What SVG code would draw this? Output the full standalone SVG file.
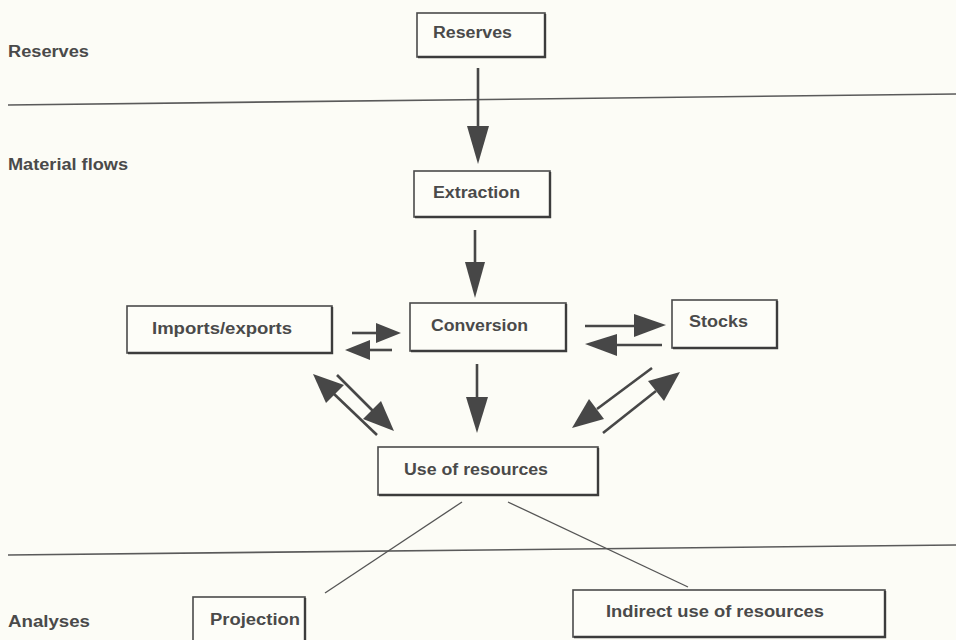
<svg xmlns="http://www.w3.org/2000/svg" width="956" height="640" viewBox="0 0 956 640">
  <defs>
    <style>
      .bg { fill: #fcfcf6; }
      .box { fill: #fdfdf8; stroke: #4a4a4a; stroke-width: 1.6; }
      .shadow { fill: none; stroke: #3c3c3c; stroke-width: 2.4; }
      .lbl { font-family: "Liberation Sans", Arial, sans-serif; font-weight: bold; font-size: 16px; fill: #4a4a4a; }
      .rule { stroke: #5a5a5a; stroke-width: 1.6; fill: none; }
      .shaft { stroke: #474747; stroke-width: 2.6; fill: none; }
      .thin { stroke: #555; stroke-width: 1.3; fill: none; }
      .head { fill: #474747; }
    </style>
  </defs>

  <rect class="bg" x="0" y="0" width="956" height="640"/>

  <!-- section labels and dividers -->
  <g id="sections">
    <text class="lbl" x="8" y="57" textLength="81" lengthAdjust="spacingAndGlyphs">Reserves</text>
    <text class="lbl" x="8" y="170" textLength="120" lengthAdjust="spacingAndGlyphs">Material flows</text>
    <text class="lbl" x="8" y="627" textLength="82" lengthAdjust="spacingAndGlyphs">Analyses</text>
    <path class="rule" d="M8,105 L956,94"/>
    <path class="rule" d="M8,555 L956,545"/>
  </g>

  <!-- connectors -->
  <g id="connectors">
    <!-- Reserves to Extraction -->
    <line class="shaft" x1="478" y1="68" x2="478" y2="128"/>
    <polygon class="head" points="467,126 489,126 478,164"/>
    <!-- Extraction to Conversion -->
    <line class="shaft" x1="475" y1="230" x2="475" y2="264"/>
    <polygon class="head" points="465,262 485,262 475,298"/>
    <!-- Conversion to Use of resources -->
    <line class="shaft" x1="477" y1="364" x2="477" y2="399"/>
    <polygon class="head" points="466,397 488,397 477,433"/>

    <!-- Imports/exports and Conversion -->
    <line class="shaft" x1="352" y1="333" x2="378" y2="333"/>
    <polygon class="head" points="376,323 376,343 401,333"/>
    <line class="shaft" x1="392" y1="350" x2="368" y2="350"/>
    <polygon class="head" points="370,340 370,360 345,350"/>

    <!-- Conversion and Stocks -->
    <line class="shaft" x1="585" y1="326" x2="636" y2="326"/>
    <polygon class="head" points="634,314 634,337 666,325"/>
    <line class="shaft" x1="662" y1="345" x2="614" y2="345"/>
    <polygon class="head" points="617,334 617,356 585,344"/>

    <!-- Imports/exports and Use of resources -->
    <line class="shaft" x1="377" y1="435" x2="333" y2="393"/>
    <polygon class="head" points="313,374 326,403 344,385"/>
    <line class="shaft" x1="337" y1="375" x2="373" y2="411"/>
    <polygon class="head" points="394,431 363,419 381,401"/>

    <!-- Stocks and Use of resources -->
    <line class="shaft" x1="652" y1="368" x2="597" y2="409"/>
    <polygon class="head" points="572,428 589,399 604,419"/>
    <line class="shaft" x1="603" y1="433" x2="656" y2="391"/>
    <polygon class="head" points="680,372 648,381 664,401"/>

    <!-- Use of resources to analyses -->
    <line class="thin" x1="462" y1="502" x2="325" y2="593"/>
    <line class="thin" x1="508" y1="502" x2="688" y2="587"/>
  </g>

  <!-- nodes -->
  <g id="node-reserves">
    <rect class="box" x="417" y="13" width="128" height="44"/>
    <path class="shadow" d="M545,14 L545,57 L418,57"/>
    <text class="lbl" x="433" y="38" textLength="79" lengthAdjust="spacingAndGlyphs">Reserves</text>
  </g>

  <g id="node-extraction">
    <rect class="box" x="414" y="171" width="136" height="46"/>
    <path class="shadow" d="M550,172 L550,217 L415,217"/>
    <text class="lbl" x="433" y="198" textLength="87" lengthAdjust="spacingAndGlyphs">Extraction</text>
  </g>

  <g id="node-imports-exports">
    <rect class="box" x="127" y="306" width="205" height="47"/>
    <path class="shadow" d="M332,307 L332,353 L128,353"/>
    <text class="lbl" x="152" y="334" textLength="140" lengthAdjust="spacingAndGlyphs">Imports/exports</text>
  </g>

  <g id="node-conversion">
    <rect class="box" x="410" y="303" width="156" height="48"/>
    <path class="shadow" d="M566,304 L566,351 L411,351"/>
    <text class="lbl" x="431" y="331" textLength="97" lengthAdjust="spacingAndGlyphs">Conversion</text>
  </g>

  <g id="node-stocks">
    <rect class="box" x="672" y="300" width="105" height="48"/>
    <path class="shadow" d="M777,301 L777,348 L673,348"/>
    <text class="lbl" x="689" y="327" textLength="59" lengthAdjust="spacingAndGlyphs">Stocks</text>
  </g>

  <g id="node-use-of-resources">
    <rect class="box" x="378" y="447" width="220" height="48"/>
    <path class="shadow" d="M598,448 L598,495 L379,495"/>
    <text class="lbl" x="404" y="475" textLength="144" lengthAdjust="spacingAndGlyphs">Use of resources</text>
  </g>

  <g id="node-projection">
    <rect class="box" x="193" y="597" width="112" height="50"/>
    <path class="shadow" d="M305,598 L305,647"/>
    <text class="lbl" x="210" y="625" textLength="90" lengthAdjust="spacingAndGlyphs">Projection</text>
  </g>

  <g id="node-indirect-use">
    <rect class="box" x="573" y="590" width="312" height="47"/>
    <path class="shadow" d="M885,591 L885,637 L574,637"/>
    <text class="lbl" x="606" y="617" textLength="218" lengthAdjust="spacingAndGlyphs">Indirect use of resources</text>
  </g>
</svg>
